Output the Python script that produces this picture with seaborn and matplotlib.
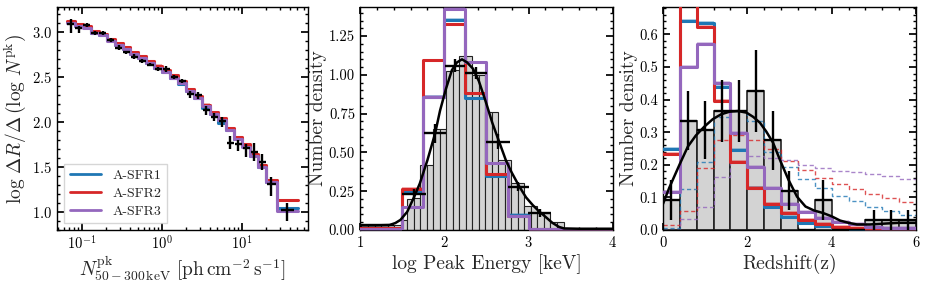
import numpy as np
import matplotlib
matplotlib.use("Agg")
import matplotlib.pyplot as plt
import seaborn as sns
import pandas as pd

# ---------------- data ----------------
# Left panel: log10 flux bin edges, models and data
flux_edges_log = [-1.19, -1.09, -0.99, -0.89, -0.79, -0.69, -0.59, -0.49, -0.39, -0.29,
                  -0.19, -0.09, 0.01, 0.11, 0.21, 0.31, 0.41, 0.51, 0.61, 0.71,
                  0.81, 0.91, 1.01, 1.11, 1.21, 1.31, 1.44, 1.71]
flux_sfr1 = [3.115, 3.075, 3.055, 2.995, 2.97, 2.91, 2.86, 2.815, 2.76, 2.71, 2.66, 2.60, 2.555,
             2.49, 2.42, 2.345, 2.27, 2.16, 2.09, 1.99, 1.91, 1.815, 1.73, 1.62, 1.50, 1.335, 1.04]
flux_sfr2 = [3.13, 3.09, 3.075, 3.01, 2.985, 2.93, 2.88, 2.835, 2.78, 2.735, 2.685, 2.63, 2.585,
             2.52, 2.455, 2.37, 2.29, 2.195, 2.115, 2.04, 1.93, 1.835, 1.75, 1.64, 1.52, 1.35, 1.13]
flux_sfr3 = [3.108, 3.07, 3.05, 2.99, 2.966, 2.907, 2.858, 2.81, 2.757, 2.71, 2.66, 2.604, 2.563,
             2.496, 2.43, 2.347, 2.27, 2.175, 2.093, 2.018, 1.906, 1.81, 1.72, 1.616, 1.496, 1.33, 1.004]
flux_obs = [3.093, 3.045, 3.082, 2.99, 2.99, 2.914, 2.83, 2.776, 2.728, 2.68, 2.64, 2.59, 2.59,
            2.50, 2.455, 2.31, 2.30, 2.13, 2.056, 2.01, 1.77, 1.75, 1.71, 1.67, 1.55, 1.31, 1.02]
flux_err_lo = [0.10, 0.05, 0.025, 0.02, 0.02, 0.02, 0.025, 0.02, 0.025, 0.025, 0.02, 0.025, 0.03,
               0.02, 0.02, 0.04, 0.04, 0.055, 0.045, 0.06, 0.075, 0.07, 0.10, 0.10, 0.09, 0.13, 0.12]
flux_err_hi = [0.06, 0.02, 0.025, 0.02, 0.02, 0.02, 0.025, 0.02, 0.025, 0.025, 0.02, 0.025, 0.03,
               0.02, 0.02, 0.04, 0.04, 0.045, 0.045, 0.045, 0.075, 0.05, 0.05, 0.10, 0.09, 0.08, 0.08]

# Middle panel: log peak energy
pe_edges = [1.0, 1.25, 1.5, 1.75, 2.0, 2.25, 2.5, 2.75, 3.0, 3.25, 3.5, 3.75, 4.0]
pe_sfr1 = [0.01, 0.01, 0.25, 0.86, 1.355, 0.848, 0.35, 0.097, 0.005, 0.005, 0.005, 0.005]
pe_sfr2 = [0.01, 0.01, 0.264, 1.095, 1.325, 0.88, 0.36, 0.09, 0.005, 0.005, 0.005, 0.005]
pe_sfr3 = [0.005, 0.005, 0.146, 0.859, 1.425, 1.08, 0.43, 0.09, 0.005, 0.005, 0.005, 0.005]
pe_hist_edges = [0.941, 1.018, 1.096, 1.173, 1.250, 1.328, 1.405, 1.482, 1.559, 1.637, 1.714,
                 1.791, 1.868, 1.946, 2.023, 2.100, 2.178, 2.255, 2.332, 2.410, 2.487, 2.564,
                 2.641, 2.719, 2.796, 2.873, 2.950, 3.028, 3.105, 3.182, 3.259, 3.337, 3.414]
pe_hist = [0.03, 0.03, 0.03, 0.03, 0.03, 0.03, 0.03, 0.065, 0.20, 0.205, 0.42, 0.42, 0.65, 0.65,
           1.025, 1.03, 1.12, 1.12, 1.0, 1.0, 0.76, 0.76, 0.45, 0.45, 0.30, 0.30, 0.155, 0.155,
           0.11, 0.11, 0.05, 0.05]
pe_obs_x = [1.2, 1.64, 1.89, 2.13, 2.38, 2.64, 2.88, 3.13]
pe_obs_y = [0.03, 0.232, 0.623, 1.06, 1.01, 0.569, 0.279, 0.112]
pe_obs_xerr = [0.2, 0.14, 0.13, 0.12, 0.13, 0.14, 0.12, 0.14]
pe_obs_yerr = [0.005, 0.03, 0.06, 0.04, 0.04, 0.05, 0.03, 0.025]
pe_curve_x = [1.0, 1.2, 1.35, 1.42, 1.48, 1.56, 1.64, 1.71, 1.80, 1.89, 1.95, 2.02, 2.09, 2.15,
              2.21, 2.27, 2.34, 2.41, 2.49, 2.57, 2.65, 2.73, 2.80, 2.89, 2.97, 3.05, 3.13, 3.20,
              3.28, 3.36, 3.42, 3.6, 4.0]
pe_curve_y = [0.03, 0.03, 0.032, 0.045, 0.065, 0.117, 0.21, 0.30, 0.45, 0.62, 0.77, 0.91, 1.03,
              1.08, 1.10, 1.08, 1.04, 0.96, 0.83, 0.69, 0.57, 0.45, 0.37, 0.28, 0.21, 0.16, 0.117,
              0.085, 0.047, 0.02, 0.01, 0.008, 0.008]

# Right panel: redshift
z_edges = [0.0, 0.4, 0.8, 1.2, 1.6, 2.0, 2.4, 2.8, 3.2, 3.6, 4.0, 4.4, 4.8, 5.2, 5.6, 6.0]
z_hist = [0.092, 0.335, 0.307, 0.365, 0.365, 0.427, 0.275, 0.12, 0.0, 0.092, 0.0, 0.0, 0.03, 0.03, 0.03]
z_err = [0.06, 0.09, 0.09, 0.095, 0.095, 0.125, 0.09, 0.06, 0.0, 0.06, 0.0, 0.0, 0.03, 0.03, 0.03]
z_sfr1 = [0.248, 0.642, 0.636, 0.438, 0.245, 0.13, 0.07, 0.041, 0.022, 0.012, 0.006, 0.004, 0.003, 0.002, 0.002]
z_sfr2 = [0.233, 0.76, 0.624, 0.395, 0.21, 0.128, 0.08, 0.051, 0.031, 0.018, 0.01, 0.006, 0.004, 0.003, 0.003]
z_sfr3 = [0.117, 0.50, 0.57, 0.452, 0.297, 0.192, 0.128, 0.08, 0.055, 0.036, 0.026, 0.018, 0.008, 0.006, 0.005]
z_int1 = [0.005, 0.126, 0.21, 0.347, 0.366, 0.335, 0.24, 0.194, 0.155, 0.13, 0.104, 0.09, 0.072, 0.059, 0.045]
z_int2 = [0.015, 0.058, 0.19, 0.276, 0.29, 0.276, 0.25, 0.213, 0.184, 0.158, 0.14, 0.125, 0.11, 0.097, 0.087]
z_int3 = [0.0, 0.035, 0.071, 0.163, 0.21, 0.228, 0.22, 0.215, 0.2, 0.19, 0.181, 0.179, 0.171, 0.166, 0.155]
z_curve_x = [0.0, 0.15, 0.39, 0.59, 0.78, 0.98, 1.18, 1.38, 1.58, 1.78, 1.98, 2.14, 2.3, 2.45, 2.61,
             2.79, 2.98, 3.18, 3.38, 3.58, 3.8, 4.0, 4.2, 4.4, 4.6, 4.9, 5.3, 5.6, 6.0]
z_curve_y = [0.08, 0.13, 0.2, 0.256, 0.29, 0.317, 0.34, 0.355, 0.363, 0.365, 0.36, 0.347, 0.329,
             0.302, 0.268, 0.21, 0.153, 0.102, 0.072, 0.06, 0.052, 0.042, 0.029, 0.022, 0.017,
             0.017, 0.02, 0.022, 0.022]

labels = ["A-SFR1", "A-SFR2", "A-SFR3"]
colors = ["#1f77b4", "#d62728", "#9467bd"]

# ---------------- style ----------------
sns.set_theme(style="ticks")
plt.rcParams.update({
    "font.family": "serif",
    "font.serif": ["cmr10", "DejaVu Serif"],
    "mathtext.fontset": "cm",
    "axes.formatter.use_mathtext": True,
    "axes.unicode_minus": False,
    "axes.linewidth": 1.0,
    "xtick.direction": "in", "ytick.direction": "in",
    "xtick.top": True, "ytick.right": True,
    "xtick.major.size": 5, "ytick.major.size": 5,
    "xtick.minor.size": 2.5, "ytick.minor.size": 2.5,
    "xtick.minor.visible": True, "ytick.minor.visible": True,
    "xtick.labelsize": 10.5, "ytick.labelsize": 10.5,
    "axes.labelsize": 14,
    "xtick.color": "black", "ytick.color": "black",
    "axes.edgecolor": "black",
})

fig = plt.figure(figsize=(9.27, 2.93), dpi=100)
axL = fig.add_axes([0.0615, 0.215, 0.2708, 0.761])
axM = fig.add_axes([0.3883, 0.215, 0.2729, 0.761])
axR = fig.add_axes([0.7152, 0.215, 0.2729, 0.761])


def step_band(ax, edges, vals, color, label=None, band=0.012, lw=2.2, z=3):
    xs = list(edges)
    ys = list(vals) + [vals[-1]]
    ax.fill_between(xs, np.array(ys) - band, np.array(ys) + band, step="post",
                    color=color, alpha=0.35, lw=0, zorder=z)
    df = pd.DataFrame({"x": xs, "y": ys})
    sns.lineplot(data=df, x="x", y="y", ax=ax, color=color, lw=lw, drawstyle="steps-post",
                 label=label, sort=False, estimator=None, zorder=z + 0.5)


# ---------------- left panel ----------------
fedges = 10 ** np.array(flux_edges_log)
for vals, c, lab in zip([flux_sfr1, flux_sfr2, flux_sfr3], colors, labels):
    step_band(axL, fedges, vals, c, label=lab, band=0.012)
fcent_log = (np.array(flux_edges_log[:-1]) + np.array(flux_edges_log[1:])) / 2
fhalf = np.minimum((np.array(flux_edges_log[1:]) - np.array(flux_edges_log[:-1])) / 2, 0.09) * 0.95
fcent = 10 ** fcent_log
axL.errorbar(fcent, flux_obs,
             xerr=[fcent - 10 ** (fcent_log - fhalf), 10 ** (fcent_log + fhalf) - fcent],
             yerr=[flux_err_lo, flux_err_hi], fmt="none", ecolor="black", elinewidth=1.7,
             capsize=0, zorder=6)
axL.set_xscale("log")
axL.set_xlim(0.049, 68)
axL.set_ylim(0.796, 3.282)
axL.set_yticks([1.0, 1.5, 2.0, 2.5, 3.0])
axL.yaxis.set_minor_locator(matplotlib.ticker.MultipleLocator(0.1))
axL.set_xlabel(r"$N^{\rm pk}_{50-300\,{\rm keV}}\ [{\rm ph\,cm^{-2}\,s^{-1}}]$", labelpad=1)
axL.set_ylabel(r"$\log\,\Delta R/\Delta\,(\log\,N^{\rm pk})$", labelpad=3)
leg = axL.legend(loc="lower left", fontsize=10, handlelength=2.3, frameon=True,
                 borderpad=0.4, labelspacing=0.35, handletextpad=0.8, fancybox=False,
                 edgecolor="#cccccc")
for h in leg.get_lines():
    h.set_linewidth(2.0)

# ---------------- middle panel ----------------
hc = (np.array(pe_hist_edges[:-1]) + np.array(pe_hist_edges[1:])) / 2
sns.histplot(x=hc, weights=pe_hist, bins=pe_hist_edges, ax=axM, color="#d3d3d3",
             edgecolor="#222222", linewidth=0.8, alpha=1.0, zorder=1)
for vals, c in zip([pe_sfr1, pe_sfr2, pe_sfr3], colors):
    step_band(axM, pe_edges, vals, c, band=0.01)
sns.lineplot(x=pe_curve_x, y=pe_curve_y, ax=axM, color="black", lw=1.8, zorder=7,
             sort=False, estimator=None)
axM.errorbar(pe_obs_x, pe_obs_y, xerr=pe_obs_xerr, yerr=pe_obs_yerr, fmt="none",
             ecolor="black", elinewidth=1.7, capsize=0, zorder=6)
axM.set_xlim(1, 4)
axM.set_ylim(0, 1.437)
axM.set_xticks([1, 2, 3, 4])
axM.xaxis.set_minor_locator(matplotlib.ticker.MultipleLocator(0.2))
axM.set_yticks([0, 0.25, 0.5, 0.75, 1.0, 1.25])
axM.yaxis.set_major_formatter(matplotlib.ticker.FormatStrFormatter("%.2f"))
axM.yaxis.set_minor_locator(matplotlib.ticker.MultipleLocator(0.05))
axM.set_xlabel("log Peak Energy [keV]", labelpad=3)
axM.set_ylabel("Number density", labelpad=1)

# ---------------- right panel ----------------
zc = (np.array(z_edges[:-1]) + np.array(z_edges[1:])) / 2
sns.histplot(x=zc, weights=z_hist, bins=z_edges, ax=axR, color="#d3d3d3",
             edgecolor="#222222", linewidth=1.2, alpha=1.0, zorder=1)
for vals, c in zip([z_int1, z_int2, z_int3], colors):
    sns.lineplot(x=z_edges, y=list(vals) + [vals[-1]], ax=axR, color=c, lw=1.0,
                 drawstyle="steps-post", linestyle=(0, (3, 2)), alpha=0.8, zorder=2,
                 sort=False, estimator=None)
for vals, c in zip([z_sfr1, z_sfr2, z_sfr3], colors):
    step_band(axR, z_edges, vals, c, band=0.006, lw=2.2)
sns.lineplot(x=z_curve_x, y=z_curve_y, ax=axR, color="black", lw=1.8, zorder=7,
             sort=False, estimator=None)
axR.errorbar(zc, z_hist, xerr=0.2, yerr=z_err, fmt="none", ecolor="black",
             elinewidth=1.7, capsize=0, zorder=6)
axR.set_xlim(0, 6)
axR.set_ylim(0, 0.684)
axR.set_xticks([0, 2, 4, 6])
axR.xaxis.set_minor_locator(matplotlib.ticker.MultipleLocator(0.4))
axR.set_yticks([0, 0.1, 0.2, 0.3, 0.4, 0.5, 0.6])
axR.yaxis.set_major_formatter(matplotlib.ticker.FormatStrFormatter("%.1f"))
axR.yaxis.set_minor_locator(matplotlib.ticker.MultipleLocator(0.02))
axR.set_xlabel("Redshift(z)", labelpad=3)
axR.set_ylabel("Number density", labelpad=1)

for ax in (axL, axM, axR):
    ax.tick_params(which="both", top=True, right=True, direction="in")

fig.savefig("out.png", dpi=100)
